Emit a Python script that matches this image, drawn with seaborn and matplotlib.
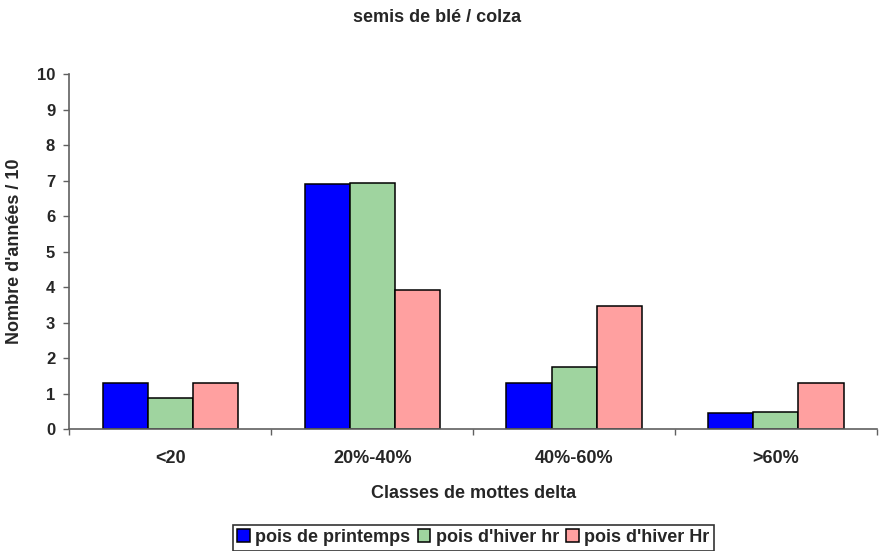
import matplotlib
matplotlib.use("Agg")
import matplotlib.pyplot as plt
import seaborn as sns
import pandas as pd
import numpy as np

categories = ["<20", "20%-40%", "40%-60%", ">60%"]
series_names = ["pois de printemps", "pois d'hiver hr", "pois d'hiver Hr"]
pois_printemps = [1.3, 6.9, 1.3, 0.45]
pois_hiver_hr = [0.87, 6.95, 1.75, 0.47]
pois_hiver_Hr = [1.3, 3.92, 3.47, 1.3]
colors = ["#0000ff", "#9fd49f", "#ffa0a0"]

rows = []
for name, vals in zip(series_names, [pois_printemps, pois_hiver_hr, pois_hiver_Hr]):
    for c, v in zip(categories, vals):
        rows.append({"cat": c, "serie": name, "val": v})
df = pd.DataFrame(rows)

sns.set_style("white")
plt.rcParams["font.family"] = ["Liberation Sans", "DejaVu Sans"]
plt.rcParams["font.weight"] = "bold"

fig = plt.figure(figsize=(8.83, 5.51), dpi=100)
ax = fig.add_axes([0.0787, 0.2214, 0.9143, 0.6437])

sns.barplot(data=df, x="cat", y="val", hue="serie", order=categories,
            hue_order=series_names, palette=colors, width=0.67, gap=0,
            edgecolor="black", linewidth=1.1, saturation=1, ax=ax, legend=True)

axis_col = "#606060"
ax.set_ylim(0, 10)
ax.set_xlim(-0.5, 3.5)
ax.set_yticks(range(0, 11))
ax.tick_params(axis="y", length=4.3, width=1, color=axis_col, labelsize=12, pad=6, direction="out", left=True)
ax.set_xticks(np.arange(-0.5, 4.0, 1.0), minor=True)
ax.tick_params(axis="x", which="major", length=0, labelsize=13, pad=15)
ax.tick_params(axis="x", which="minor", length=4.3, width=1, color=axis_col, direction="out", bottom=True)
for lbl in ax.get_xticklabels() + ax.get_yticklabels():
    lbl.set_fontweight("bold")

for s in ["top", "right"]:
    ax.spines[s].set_visible(False)
for s in ["left", "bottom"]:
    ax.spines[s].set_color(axis_col)
    ax.spines[s].set_linewidth(1.2)

ax.set_xlabel("Classes de mottes delta", fontsize=13, fontweight="bold", labelpad=13)
ax.set_ylabel("Nombre d'années / 10", fontsize=13, fontweight="bold", labelpad=10)
fig.text(0.495, 0.969, "semis de blé / colza", ha="center", va="center", fontsize=13, fontweight="bold")

handles, labels = ax.get_legend_handles_labels()
ax.legend_.remove()
leg = fig.legend(handles, labels, loc="upper center", bbox_to_anchor=(0.536, 0.048), ncol=3,
                 frameon=True, fancybox=False, edgecolor="black", handlelength=0.7,
                 handleheight=0.7, handletextpad=0.3, columnspacing=0.4, borderpad=0.25,
                 borderaxespad=0, prop={"weight": "bold", "size": 13})
leg.get_frame().set_linewidth(1.2)

fig.savefig("out.png", dpi=100)
